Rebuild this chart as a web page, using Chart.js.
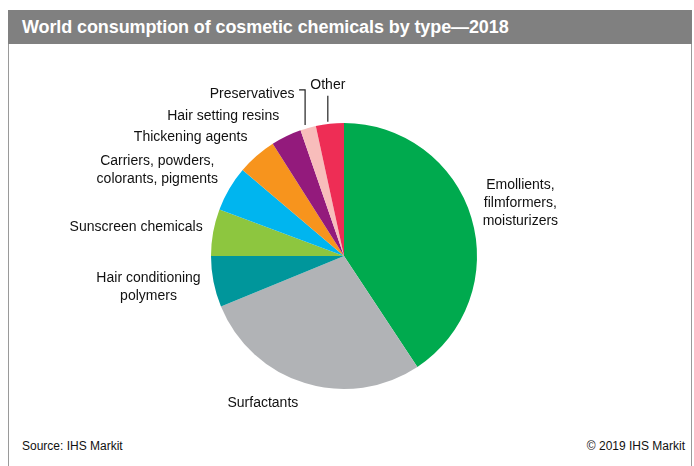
<!DOCTYPE html>
<html>
<head>
<meta charset="utf-8">
<script src="https://cdn.jsdelivr.net/npm/chart.js@4"></script>
<style>
  html, body { margin: 0; padding: 0; background: #fff; }
  body { width: 694px; height: 466px; position: relative; overflow: hidden;
         font-family: "Liberation Sans", Arial, sans-serif; }
  #frame { position: absolute; left: 8px; top: 10px; width: 682px; height: 456px;
           border-left: 1px solid #9a9a9a; border-right: 1px solid #9a9a9a; }
  #title { position: absolute; left: 8px; top: 10px; width: 684px; height: 34px;
           background: #808080; color: #fff; font-weight: bold; font-size: 18px;
           line-height: 34px; padding-left: 14px; box-sizing: border-box; letter-spacing: -0.1px; }
  .foot { position: absolute; top: 439px; font-size: 12px; color: #111; }
  #chartBox { position: absolute; left: 0; top: 0; width: 694px; height: 466px; }
</style>
</head>
<body>
<div id="frame"></div>
<div id="title">World consumption of cosmetic chemicals by type—2018</div>
<div class="foot" style="left:22px">Source: IHS Markit</div>
<div class="foot" style="right:9px">© 2019 IHS Markit</div>
<div id="chartBox"><canvas id="pie"></canvas></div>
<script>
const categories = [
  ["Emollients,", "filmformers,", "moisturizers"],
  ["Surfactants"],
  ["Hair conditioning", "polymers"],
  ["Sunscreen chemicals"],
  ["Carriers, powders,", "colorants, pigments"],
  ["Thickening agents"],
  ["Hair setting resins"],
  ["Preservatives"],
  ["Other"],
];
const shares = [40.7, 28.1, 6.2, 5.7, 5.5, 4.8, 3.7, 1.9, 3.4];
const colors = ["#00AA4E", "#B1B3B6", "#00969B", "#8DC63F", "#00B5EF",
                "#F7941D", "#931A7C", "#F8BDBB", "#EE2D55"];

// label centre offsets from the outer midpoint of each slice
const labelOffsets = [[49, -15], [-42, 20], [-65, 5], [-77, -5], [-72, -19],
                      [-66, -19], [-63, -20], [-56, -34], [-2, -39]];

const labelPlugin = {
  id: "sliceLabels",
  afterDraw(chart) {
    const ctx = chart.ctx;
    const arcs = chart.getDatasetMeta(0).data;
    ctx.save();
    ctx.font = "14px 'Liberation Sans', Arial, sans-serif";
    ctx.fillStyle = "#111";
    ctx.textAlign = "center";
    ctx.textBaseline = "middle";
    ctx.strokeStyle = "#222";
    ctx.lineWidth = 1.2;
    arcs.forEach((arc, i) => {
      const mid = (arc.startAngle + arc.endAngle) / 2;
      const ax = arc.x + Math.cos(mid) * arc.outerRadius;
      const ay = arc.y + Math.sin(mid) * arc.outerRadius;
      const [dx, dy] = labelOffsets[i];
      const lines = categories[i];
      const lh = 18;
      const y0 = ay + dy - (lines.length - 1) * lh / 2;
      lines.forEach((t, k) => ctx.fillText(t, ax + dx, y0 + k * lh));
      if (i === 7) {
        // bracket for Preservatives
        ctx.beginPath();
        ctx.moveTo(ax - 3, ay - 3);
        ctx.lineTo(ax - 3, ay - 38);
        ctx.lineTo(ax - 9, ay - 38);
        ctx.stroke();
      }
      if (i === 8) {
        ctx.beginPath();
        ctx.moveTo(ax - 2, ay - 2);
        ctx.lineTo(ax - 2, ay - 28);
        ctx.stroke();
      }
    });
    ctx.restore();
  }
};

new Chart(document.getElementById("pie"), {
  type: "pie",
  data: {
    labels: categories.map(l => l.join(" ")),
    datasets: [{
      data: shares,
      backgroundColor: colors,
      borderWidth: 0,
    }],
  },
  options: {
    responsive: true,
    maintainAspectRatio: false,
    animation: false,
    layout: { padding: { left: 211, right: 217, top: 123, bottom: 77 } },
    plugins: {
      legend: { display: false },
      tooltip: { enabled: false },
    },
  },
  plugins: [labelPlugin],
});
</script>
</body>
</html>
